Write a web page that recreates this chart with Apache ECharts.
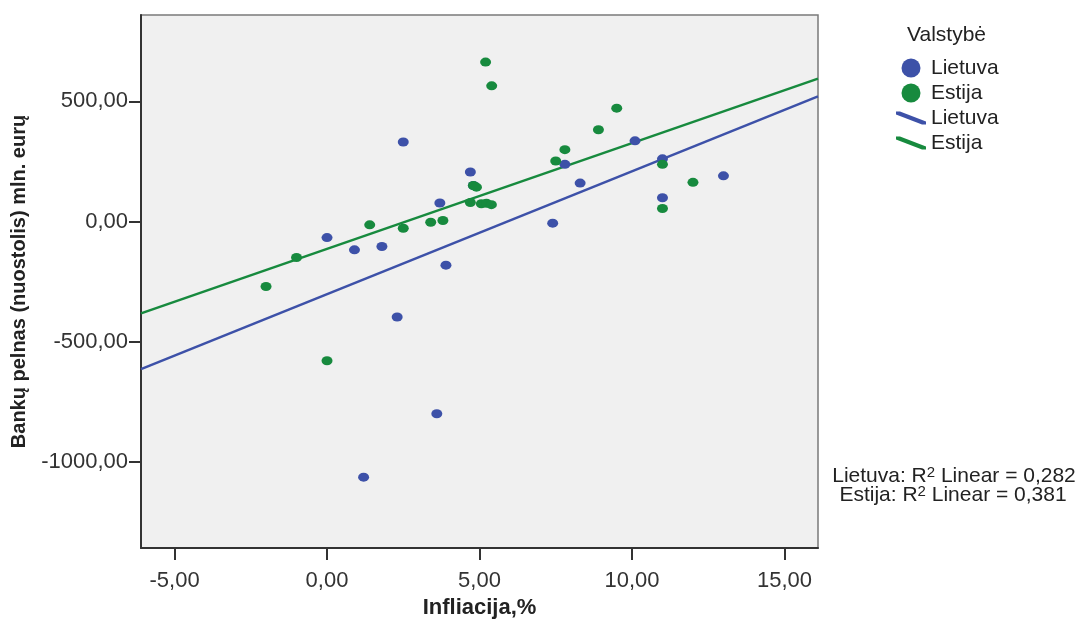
<!DOCTYPE html>
<html>
<head>
<meta charset="utf-8">
<script src="https://cdn.jsdelivr.net/npm/echarts@6/dist/echarts.min.js"></script>
<style>
  html, body { margin: 0; padding: 0; background: #fff; }
  #chart { width: 1083px; height: 621px; }
</style>
</head>
<body>
<div id="chart"></div>
<script>
// Inflation (%) vs. bank profit (loss), mln. EUR — one point per year
const lietuvaX = [2.5, 4.7, 4.8, 3.7, 0.0, 0.9, 1.8, 3.9, 10.1, 7.8, 11.0, 13.0, 8.3, 11.0, 7.4, 2.3, 3.6, 1.2];
const lietuvaY = [331, 206, 150, 77, -67, -118, -104, -182, 336, 238, 261, 190, 160, 99, -7, -398, -801, -1065];

const estijaX = [5.2, 5.4, 4.8, 4.9, 4.7, 5.06, 5.23, 5.39, 1.4, 2.5, 3.4, 3.8, -1.0, 9.5, 8.9, 7.8, 7.5, 11.0, 12.0, 11.0, -2.0, 0.0];
const estijaY = [664, 565, 150, 143, 79, 74, 76, 70, -14, -28, -3, 4, -150, 472, 382, 299, 252, 238, 163, 54, -271, -580];

// Linear fit lines: [intercept, slope]
const fitLietuva = [-303, 51.2];
const fitEstija = [-114, 44.05];
const r2Lietuva = '0,282';
const r2Estija = '0,381';

// Axis ranges and tick labels
const xRange = [-6.1, 16.1];
const yRange = [-1360, 860];
const xTicks = [-5, 0, 5, 10, 15];
const yTicks = [-1000, -500, 0, 500];

const BLUE = '#3d51a8';
const GREEN = '#178a3e';
const FONT = "'Liberation Sans', Arial, sans-serif";
const LINE_ICON = 'path://M0,0L4,0L30,10L30,13L26,13L0,3Z';

const pairs = (xs, ys) => xs.map((x, i) => [x, ys[i]]);
const fitLine = (c) => xRange.map(x => [x, c[0] + c[1] * x]);
const fmt = v => v.toFixed(2).replace('.', ',');

// "Country: R² Linear = value" with a raised superscript
const r2Text = (country, value) => ({
  text: '{n|' + country + ': R}{s|2}{n| Linear = ' + value + '}',
  align: 'center', verticalAlign: 'middle', fontFamily: FONT,
  rich: {
    n: { fontFamily: FONT, fontSize: 21, fill: '#222', lineHeight: 21, padding: [4, 0, 0, 0], verticalAlign: 'bottom' },
    s: { fontFamily: FONT, fontSize: 15, fill: '#222', lineHeight: 15, verticalAlign: 'top' }
  }
});

const chart = echarts.init(document.getElementById('chart'), null, { renderer: 'canvas' });

chart.setOption({
  animation: false,
  backgroundColor: '#ffffff',
  textStyle: { fontFamily: FONT },
  grid: {
    left: 141, top: 15, right: 265, bottom: 73,
    outerBoundsMode: 'none', containLabel: false,
    show: true, backgroundColor: '#f0f0f0',
    borderColor: '#7a7a7a', borderWidth: 1.5
  },
  xAxis: {
    type: 'value', min: xRange[0], max: xRange[1],
    name: 'Infliacija,%', nameLocation: 'middle', nameGap: 49,
    nameTextStyle: { fontFamily: FONT, fontSize: 22, fontWeight: 'bold', color: '#222' },
    splitLine: { show: false },
    axisLine: { show: true, onZero: false, lineStyle: { color: '#333', width: 2 } },
    axisTick: { show: true, length: 12, customValues: xTicks, lineStyle: { color: '#333', width: 2 } },
    axisLabel: { customValues: xTicks, formatter: fmt, fontFamily: FONT, fontSize: 22, color: '#333', margin: 22 }
  },
  yAxis: {
    type: 'value', min: yRange[0], max: yRange[1],
    name: 'Bankų pelnas (nuostolis) mln. eurų', nameLocation: 'middle', nameGap: 112,
    nameTextStyle: { fontFamily: FONT, fontSize: 20, fontWeight: 'bold', color: '#222' },
    splitLine: { show: false },
    axisLine: { show: true, onZero: false, lineStyle: { color: '#333', width: 2 } },
    axisTick: { show: true, length: 12, customValues: yTicks, lineStyle: { color: '#333', width: 2 } },
    axisLabel: { customValues: yTicks, formatter: fmt, fontFamily: FONT, fontSize: 22, color: '#333', margin: 13 }
  },
  legend: {
    orient: 'vertical', left: 891, top: 52,
    itemWidth: 30, itemHeight: 19, itemGap: 3,
    textStyle: { fontFamily: FONT, fontSize: 21, color: '#222', lineHeight: 22 },
    formatter: name => name.replace(' fit', ''),
    data: [
      { name: 'Lietuva', icon: 'circle' },
      { name: 'Estija', icon: 'circle' },
      { name: 'Lietuva fit', icon: LINE_ICON },
      { name: 'Estija fit', icon: LINE_ICON }
    ]
  },
  graphic: [
    { type: 'text', left: 907, top: 25,
      style: { text: 'Valstybė', fontFamily: FONT, fontSize: 21, fill: '#222' } },
    { type: 'text', x: 954, y: 476, style: r2Text('Lietuva', r2Lietuva) },
    { type: 'text', x: 953, y: 495, style: r2Text('Estija', r2Estija) }
  ],
  series: [
    { name: 'Lietuva', type: 'scatter', data: pairs(lietuvaX, lietuvaY),
      symbol: 'circle', symbolSize: [11, 9], itemStyle: { color: BLUE, opacity: 1 }, z: 3 },
    { name: 'Estija', type: 'scatter', data: pairs(estijaX, estijaY),
      symbol: 'circle', symbolSize: [11, 9], itemStyle: { color: GREEN, opacity: 1 }, z: 4 },
    { name: 'Lietuva fit', type: 'line', data: fitLine(fitLietuva), showSymbol: false, symbol: 'none',
      lineStyle: { color: BLUE, width: 2.5 }, itemStyle: { color: BLUE }, z: 2 },
    { name: 'Estija fit', type: 'line', data: fitLine(fitEstija), showSymbol: false, symbol: 'none',
      lineStyle: { color: GREEN, width: 2.5 }, itemStyle: { color: GREEN }, z: 2 }
  ]
});
</script>
</body>
</html>
